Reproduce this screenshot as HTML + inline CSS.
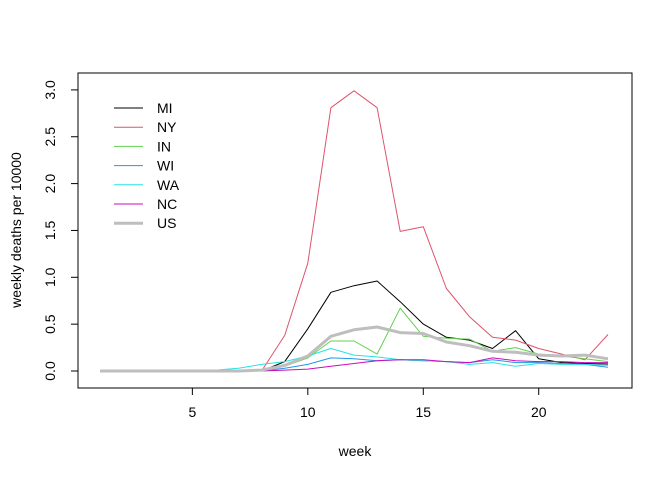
<!DOCTYPE html>
<html><head><meta charset="utf-8"><style>body{margin:0;background:#fff}svg{display:block;font-family:"Liberation Sans",Arial,sans-serif}</style></head>
<body>
<svg id="c" width="672" height="480" xmlns="http://www.w3.org/2000/svg"></svg>
<script>
const weeks=[1,2,3,4,5,6,7,8,9,10,11,12,13,14,15,16,17,18,19,20,21,22,23];
const seriesNames=["MI","NY","IN","WI","WA","NC","US"];
const MI=[0,0,0,0,0,0,0,0,0.1,0.45,0.84,0.91,0.96,0.74,0.5,0.36,0.33,0.24,0.43,0.13,0.09,0.08,0.075];
const NY=[0,0,0,0,0,0,0,0,0.38,1.15,2.81,2.99,2.81,1.49,1.54,0.88,0.58,0.36,0.33,0.24,0.18,0.12,0.39];
const IN=[0,0,0,0,0,0,0,0,0.05,0.14,0.32,0.32,0.18,0.67,0.37,0.35,0.34,0.21,0.25,0.18,0.16,0.13,0.1];
const WI=[0,0,0,0,0,0,0,0,0.03,0.07,0.14,0.13,0.11,0.12,0.11,0.1,0.09,0.12,0.09,0.09,0.08,0.07,0.04];
const WA=[0,0,0,0,0.005,0.01,0.03,0.07,0.1,0.16,0.24,0.17,0.15,0.12,0.11,0.1,0.07,0.09,0.05,0.08,0.07,0.07,0.06];
const NC=[0,0,0,0,0,0,0,0,0.01,0.02,0.05,0.08,0.11,0.12,0.12,0.1,0.09,0.14,0.11,0.1,0.1,0.09,0.09];
const US=[0,0,0,0,0,0,0,0.01,0.06,0.16,0.37,0.44,0.47,0.41,0.4,0.31,0.27,0.21,0.2,0.17,0.16,0.17,0.13];
const xTicks=[5,10,15,20];
const yTicks=[0,0.5,1,1.5,2,2.5,3];
const yTickLabels=["0.0","0.5","1.0","1.5","2.0","2.5","3.0"];
const data=[MI,NY,IN,WI,WA,NC,US];
const colors=["#000000","#DF536B","#61D04F","#2297E6","#28E2E5","#CD0BBC","#BEBEBE"];
const widths=[1,1,1,1,1,1,3];
const X=w=>100+(w-1)*(508/22);
const Y=v=>371-v*93.7;
const svg=document.getElementById('c');const NS="http://www.w3.org/2000/svg";
function mk(t,a,p){const e=document.createElementNS(NS,t);for(const k in a)e.setAttribute(k,a[k]);(p||svg).appendChild(e);return e;}
const box=mk('rect',{x:78,y:73,width:554,height:315,fill:'none',stroke:'#000'});


mk('line',{x1:X(5),x2:X(20),y1:388,y2:388,stroke:'#000'});
xTicks.forEach(t=>{mk('line',{x1:X(t),x2:X(t),y1:388,y2:395,stroke:'#000'});
const tx=mk('text',{x:X(t),y:417,'text-anchor':'middle','font-size':14});tx.textContent=t;

});
mk('line',{x1:78,x2:78,y1:Y(0),y2:Y(3),stroke:'#000'});
yTicks.forEach((t,i)=>{mk('line',{x1:71,x2:78,y1:Y(t),y2:Y(t),stroke:'#000'});
const tx=mk('text',{x:55,y:Y(t),'text-anchor':'middle','font-size':14,transform:`rotate(-90 55 ${Y(t)})`});tx.textContent=yTickLabels[i];

});
const xt=mk('text',{x:355,y:456,'text-anchor':'middle','font-size':14});xt.textContent='week';


const yt=mk('text',{x:21,y:230,'text-anchor':'middle','font-size':14,transform:'rotate(-90 21 230)'});yt.textContent='weekly deaths per 10000';


const order=[0,1,2,3,4,5,6];
order.forEach(i=>{const pts=weeks.map((w,j)=>X(w).toFixed(1)+','+Y(data[i][j]).toFixed(1)).join(' ');
const pl=mk('polyline',{points:pts,fill:'none',stroke:colors[i],'stroke-width':widths[i],'stroke-linejoin':'round'});

});
seriesNames.forEach((n,i)=>{const y=108+i*19.2;
const g=mk('g',{});


mk('line',{x1:114,x2:143,y1:y,y2:y,stroke:colors[i],'stroke-width':widths[i]},g);
const t=mk('text',{x:157,y:y+5,'font-size':14},g);t.textContent=n;});
</script>
</body></html>
